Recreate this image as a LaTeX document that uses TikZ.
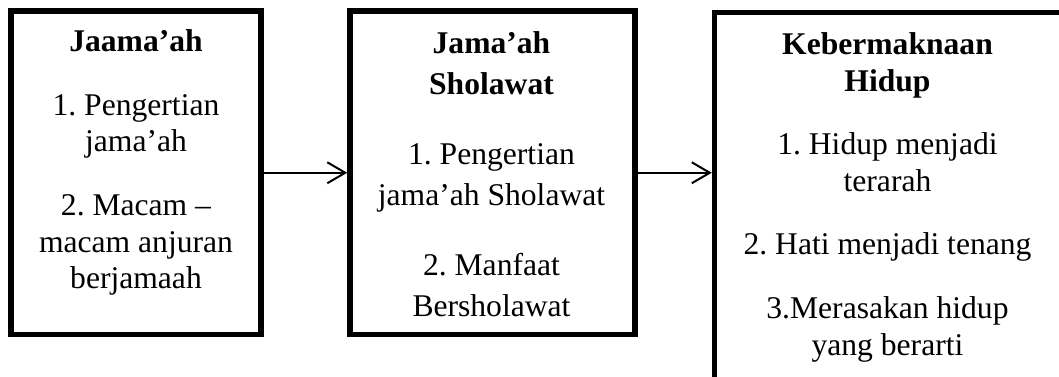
\documentclass[tikz,border=0pt]{standalone}
\usepackage{fontspec}
\setmainfont{Liberation Serif}
\usetikzlibrary{arrows.meta}
\frenchspacing
\begin{document}
\begin{tikzpicture}[x=1bp,y=-1bp,
  frame/.style={draw=black, line width=5.5bp, rectangle, inner sep=0pt},
  link/.style={draw=black, line width=2bp, -{Straight Barb[length=18bp,width=21bp]}},
  body/.style={align=center, anchor=base, inner sep=0pt},
  tight/.style={font=\fontsize{31.6bp}{36.7bp}\selectfont},
  loose/.style={font=\fontsize{31.6bp}{41.5bp}\selectfont},
]
\useasboundingbox (0,0) rectangle (1059,376);
\clip (0,0) rectangle (1059,376);

% the three boxes (the last one runs past the page edge)
\node[frame, minimum width=249.8bp, minimum height=323.5bp] (b1) at (135.9,172.75) {};
\node[frame, minimum width=285bp, minimum height=323.5bp] (b2) at (492.5,172.75) {};
\node[frame, minimum width=360bp, minimum height=380bp] (b3) at (894.5,202.5) {};

% box contents, each placed by the baseline of its last line
\node[body, tight] (t1) at (136,288.8) {\textbf{Jaama’ah}\\[26.8bp]
  1. Pengertian\\ jama’ah\\[26.8bp]
  2. Macam –\\ macam anjuran\\ berjamaah};
\node[body, loose] (t2) at (491.5,316.7) {\textbf{Jama’ah}\\ \textbf{Sholawat}\\[28bp]
  1. Pengertian\\ jama’ah Sholawat\\[28bp]
  2. Manfaat\\ Bersholawat};
\node[body, tight] (t3) at (887.5,355) {\textbf{Kebermaknaan}\\ \textbf{Hidup}\\[26.8bp]
  1. Hidup menjadi\\ terarah\\[26.8bp]
  2. Hati menjadi tenang\\[26.8bp]
  3.Merasakan hidup\\ yang berarti};

% connectors
\draw[link] (b1.east) -- (b2.west);
\draw[link] (b2.east) -- (b2.east -| b3.west);
\end{tikzpicture}
\end{document}
